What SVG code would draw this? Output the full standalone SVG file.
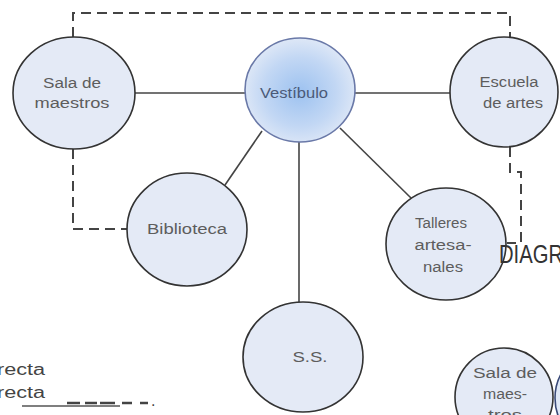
<svg xmlns="http://www.w3.org/2000/svg" width="560" height="415" viewBox="0 0 560 415">
<defs>
<radialGradient id="vg" cx="50%" cy="52%" r="55%">
<stop offset="0" stop-color="#9dc2f0"/>
<stop offset="0.6" stop-color="#c2d7f4"/>
<stop offset="1" stop-color="#e2eaf7"/>
</radialGradient>
<style>
.n{fill:#e4eaf6;stroke:#333;stroke-width:1.6}
.t{font-family:"Liberation Sans",Arial,sans-serif;font-size:14px;fill:#5d5d5d;text-anchor:middle}
.s{stroke:#444;stroke-width:1.6;fill:none}
.d{stroke:#444;stroke-width:2;fill:none;stroke-dasharray:10 6}
</style>
</defs>
<rect width="560" height="415" fill="#ffffff"/>
<g id="connectors">
<line class="s" x1="135" y1="93" x2="245" y2="93"/>
<line class="s" x1="355" y1="93" x2="450" y2="93"/>
<line class="s" x1="262" y1="131" x2="225" y2="185"/>
<line class="s" x1="299" y1="142" x2="299" y2="303"/>
<line class="s" x1="340" y1="128" x2="411" y2="198"/>
<path class="d" d="M73 37 V13 H510 V37"/>
<path class="d" d="M73 149 V229 H127"/>
<path class="d" d="M510 147 V172 H521 V243 H507"/>
</g>
<g id="sala">
<ellipse class="n" cx="74" cy="93" rx="61" ry="56"/>
<text class="t" x="72" y="88" textLength="58" lengthAdjust="spacingAndGlyphs">Sala de</text>
<text class="t" x="72" y="108" textLength="75" lengthAdjust="spacingAndGlyphs">maestros</text>
</g>
<g id="vestibulo">
<ellipse cx="300" cy="90" rx="55" ry="52" fill="url(#vg)" stroke="#6a79a8" stroke-width="1.6"/>
<text class="t" x="294" y="98" style="fill:#4b5a78" textLength="68" lengthAdjust="spacingAndGlyphs">Vestíbulo</text>
</g>
<g id="escuela">
<ellipse class="n" cx="504" cy="92" rx="54" ry="55"/>
<text class="t" x="509" y="87" textLength="59" lengthAdjust="spacingAndGlyphs">Escuela</text>
<text class="t" x="513" y="108" textLength="60" lengthAdjust="spacingAndGlyphs">de artes</text>
</g>
<g id="biblioteca">
<ellipse class="n" cx="187" cy="229.5" rx="60" ry="56.5"/>
<text class="t" x="187" y="234" textLength="80" lengthAdjust="spacingAndGlyphs">Biblioteca</text>
</g>
<g id="talleres">
<ellipse class="n" cx="446" cy="244" rx="60" ry="56"/>
<text class="t" x="441" y="228" textLength="52" lengthAdjust="spacingAndGlyphs">Talleres</text>
<text class="t" x="443" y="250" textLength="57" lengthAdjust="spacingAndGlyphs">artesa-</text>
<text class="t" x="443" y="272" textLength="40" lengthAdjust="spacingAndGlyphs">nales</text>
</g>
<g id="ss">
<ellipse class="n" cx="303" cy="357" rx="60" ry="55"/>
<text class="t" x="310" y="362" textLength="35" lengthAdjust="spacingAndGlyphs">S.S.</text>
</g>
<g id="sala2">
<ellipse class="n" cx="504" cy="397" rx="49" ry="49"/>
<text class="t" x="505" y="378" textLength="64" lengthAdjust="spacingAndGlyphs">Sala de</text>
<text class="t" x="505" y="399" textLength="44" lengthAdjust="spacingAndGlyphs">maes-</text>
<text class="t" x="505" y="420" textLength="34" lengthAdjust="spacingAndGlyphs">tros</text>
</g>
<g id="node-right">
<ellipse cx="605" cy="398" rx="50" ry="50" fill="#dfe8f6" stroke="#3a4a78" stroke-width="1.6"/>
</g>
<g id="title">
<text x="499" y="263" font-family="'Liberation Sans',Arial,sans-serif" font-size="25" fill="#333" textLength="64" lengthAdjust="spacingAndGlyphs">DIAGR</text>
</g>
<g id="legend">
<text x="-3" y="375" font-family="'Liberation Sans',Arial,sans-serif" font-size="16" fill="#444" textLength="48" lengthAdjust="spacingAndGlyphs">recta</text>
<text x="-3" y="398" font-family="'Liberation Sans',Arial,sans-serif" font-size="16" fill="#444" textLength="48" lengthAdjust="spacingAndGlyphs">recta</text>
<line x1="22" y1="406" x2="120" y2="406" stroke="#555" stroke-width="1.5"/>
<g stroke="#444" stroke-width="2.5">
<line x1="67" y1="403" x2="80" y2="403"/>
<line x1="85" y1="403" x2="97" y2="403"/>
<line x1="100" y1="403" x2="115" y2="403"/>
<line x1="122" y1="403" x2="132" y2="403"/>
<line x1="140" y1="403" x2="148" y2="403"/>
</g>
<text x="151" y="406" font-family="'Liberation Sans',Arial,sans-serif" font-size="16" fill="#444">.</text>
</g>
</svg>
